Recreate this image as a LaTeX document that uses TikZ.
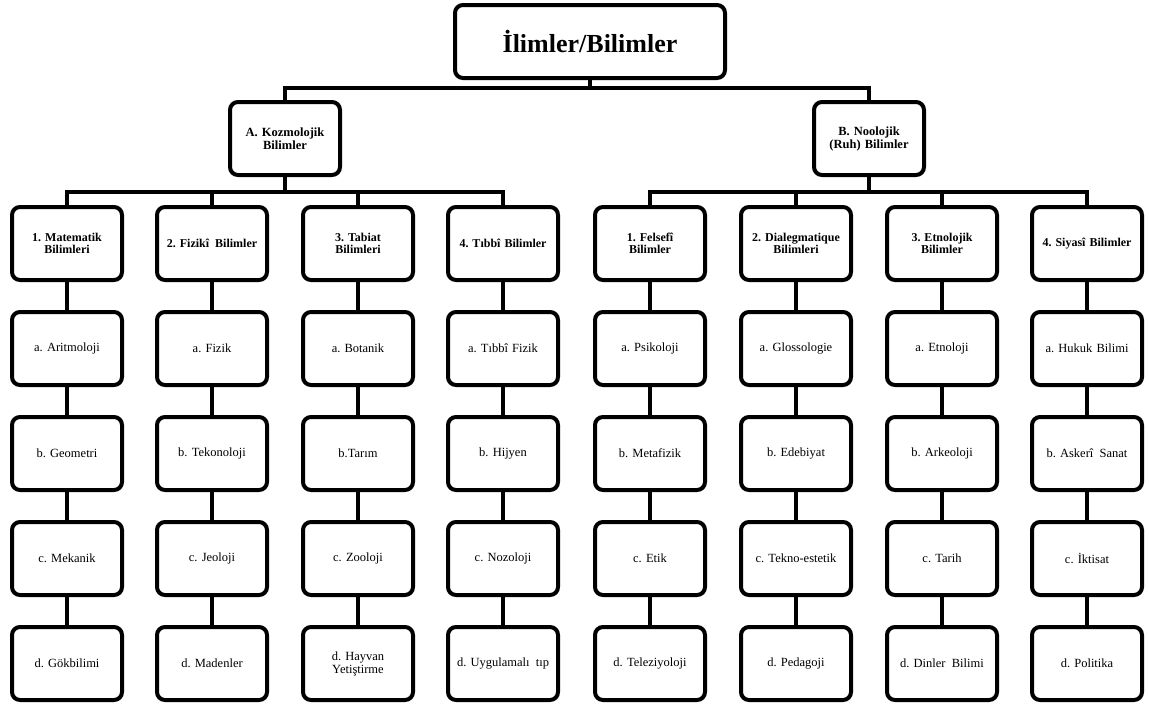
\documentclass[tikz,border=0pt]{standalone}
\usepackage{fontspec}
\setmainfont{Liberation Serif}
\frenchspacing
\begin{document}
\begin{tikzpicture}[x=1pt,y=-1pt,
  box/.style={draw=black,line width=4pt,rounded corners=8pt,fill=white,
    minimum width=110pt,minimum height=73pt,align=center,inner sep=2pt,text width=104pt},
  titlebox/.style={box,minimum width=270pt,text width=260pt,font=\fontsize{26}{28}\selectfont\bfseries},
  lone/.style={box,font=\fontsize{12.5}{13}\selectfont\bfseries},
  ltwo/.style={box,font=\fontsize{12}{12.5}\selectfont\bfseries},
  lthree/.style={box,font=\fontsize{12.5}{13}\selectfont},
  conn/.style={line width=4pt,line join=miter}]
\useasboundingbox (0,0) rectangle (1149,707);
% top
\node[titlebox] (top) at (590,41.5) {İlimler/Bilimler};
\node[lone] (A) at (285,138.5) {A. Kozmolojik\\Bilimler};
\node[lone] (B) at (869,138.5) {B. Noolojik\\(Ruh) Bilimler};
% level 2
\node[ltwo] (l1) at (67,243.5) {1. Matematik\\Bilimleri};
\node[ltwo] (l2) at (212,243.5) {2. Fizikî\enspace Bilimler};
\node[ltwo] (l3) at (358,243.5) {3. Tabiat\\Bilimleri};
\node[ltwo] (l4) at (503,243.5) {4. Tıbbî Bilimler};
\node[ltwo] (r1) at (650,243.5) {1. Felsefî\\Bilimler};
\node[ltwo] (r2) at (796,243.5) {2. Dialegmatique\\Bilimleri};
\node[ltwo] (r3) at (942,243.5) {3. Etnolojik\\Bilimler};
\node[ltwo] (r4) at (1087,243.5) {4. Siyasî Bilimler};
% level 3
\foreach \n/\x/\ta/\tb/\tc/\td in {
  l1/67/a. Aritmoloji/b. Geometri/c. Mekanik/d. Gökbilimi,
  l2/212/a. Fizik/b. Tekonoloji/c. Jeoloji/d. Madenler,
  l3/358/a. Botanik/b.Tarım/c. Zooloji/{d. Hayvan\\Yetiştirme},
  l4/503/a. Tıbbî Fizik/b. Hijyen/c. Nozoloji/d. Uygulamalı\enspace tıp,
  r1/650/a. Psikoloji/b. Metafizik/c. Etik/d. Teleziyoloji,
  r2/796/a. Glossologie/b. Edebiyat/c. Tekno-estetik/d. Pedagoji,
  r3/942/a. Etnoloji/b. Arkeoloji/c. Tarih/d. Dinler\enspace Bilimi,
  r4/1087/a. Hukuk Bilimi/b. Askerî\enspace Sanat/c. İktisat/d. Politika}{
  \node[lthree] (\n a) at (\x,348.5) {\ta};
  \node[lthree] (\n b) at (\x,453.5) {\tb};
  \node[lthree] (\n c) at (\x,558.5) {\tc};
  \node[lthree] (\n d) at (\x,663.5) {\td};
  \draw[conn] (\n.south) -- (\n a.north);
  \draw[conn] (\n a.south) -- (\n b.north);
  \draw[conn] (\n b.south) -- (\n c.north);
  \draw[conn] (\n c.south) -- (\n d.north);
}
% buses
\coordinate (tbus) at (590,88);
\coordinate (abus) at (285,192);
\coordinate (bbus) at (869,192);
\draw[conn] (top.south) -- (tbus);
\draw[conn] (A.north) |- (tbus) -| (B.north);
\draw[conn] (A.south) -- (abus);
\draw[conn] (l1.north) |- (abus) -| (l4.north);
\draw[conn] (l2.north) -- (l2.north |- abus);
\draw[conn] (l3.north) -- (l3.north |- abus);
\draw[conn] (B.south) -- (bbus);
\draw[conn] (r1.north) |- (bbus) -| (r4.north);
\draw[conn] (r2.north) -- (r2.north |- bbus);
\draw[conn] (r3.north) -- (r3.north |- bbus);
\end{tikzpicture}
\end{document}
